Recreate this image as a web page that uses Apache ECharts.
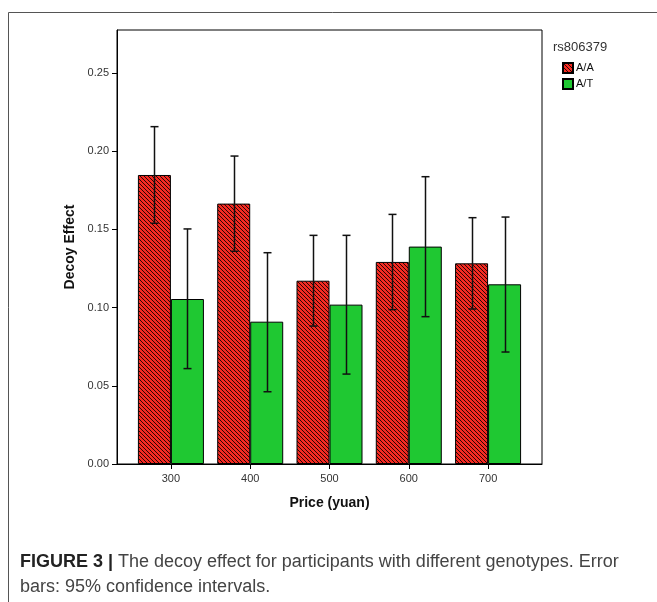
<!DOCTYPE html>
<html>
<head>
<meta charset="utf-8">
<script src="https://cdn.jsdelivr.net/npm/echarts@6/dist/echarts.min.js"></script>
<style>html,body{margin:0;padding:0;background:#fff;}#c{width:657px;height:602px;}</style>
</head>
<body>
<div id="c"></div>
<script>
// ---- data ----
const prices = [300, 400, 500, 600, 700];
const yTicks = [0, 0.05, 0.10, 0.15, 0.20, 0.25];
const aaMean = [0.1848, 0.1665, 0.1172, 0.1292, 0.1283];
const aaLow  = [0.1539, 0.1360, 0.0882, 0.0987, 0.0991];
const aaHigh = [0.2157, 0.1969, 0.1462, 0.1596, 0.1575];
const atMean = [0.1055, 0.0910, 0.1019, 0.1390, 0.1149];
const atLow  = [0.0610, 0.0462, 0.0575, 0.0942, 0.0716];
const atHigh = [0.1503, 0.1351, 0.1462, 0.1837, 0.1579];

// hatch pattern
const pc = document.createElement('canvas');
pc.width = 4; pc.height = 4;
const g = pc.getContext('2d');
g.fillStyle = '#f52a22'; g.fillRect(0, 0, 4, 4);
for (let i = 0; i < 4; i++) {
  g.fillStyle = '#2a0604'; g.fillRect(i, i, 1, 1);
}
const hatch = { image: pc, repeat: 'repeat' };

const BW = 33;
const errData = [];
prices.forEach((p, i) => {
  errData.push([p, aaLow[i], aaHigh[i], -BW / 2]);
  errData.push([p, atLow[i], atHigh[i], BW / 2]);
});

const chart = echarts.init(document.getElementById('c'));
const font = 'Liberation Sans, Arial, sans-serif';
chart.setOption({
  animation: false,
  backgroundColor: '#fff',
  title: { text: 'rs806379', left: 548, top: 36, textStyle: { fontSize: 13, fontWeight: 'normal', color: '#333', fontFamily: font } },
  legend: {
    orient: 'vertical', left: 557, top: 57, itemWidth: 10, itemHeight: 10, itemGap: 4,
    icon: 'rect', data: ['A/A', 'A/T'],
    textStyle: { fontSize: 11, color: '#111', fontFamily: font, padding: [0, 0, 0, -2] }
  },
  grid: { left: 117, top: 30, width: 425, height: 434, show: true, borderColor: '#000', borderWidth: 1, containLabel: false },
  xAxis: {
    type: 'value', min: 232, max: 768,
    name: 'Price (yuan)', nameLocation: 'middle', nameGap: 32,
    nameTextStyle: { fontSize: 14, fontWeight: 'bold', color: '#111', fontFamily: font },
    axisLine: { show: true, lineStyle: { color: '#000', width: 1 } },
    axisTick: { show: true, length: 5, lineStyle: { color: '#000' }, customValues: prices },
    axisLabel: { fontSize: 11, color: '#333', margin: 9, fontFamily: font, customValues: prices },
    splitLine: { show: false }
  },
  yAxis: {
    type: 'value', min: 0, max: 0.2775,
    name: 'Decoy Effect', nameLocation: 'middle', nameGap: 36,
    nameTextStyle: { fontSize: 14, fontWeight: 'bold', color: '#111', fontFamily: font },
    axisLine: { show: true, lineStyle: { color: '#000', width: 1 } },
    axisTick: { show: true, length: 5, lineStyle: { color: '#000' }, customValues: yTicks },
    axisLabel: { fontSize: 11, color: '#333', margin: 8, fontFamily: font, customValues: yTicks, formatter: v => v.toFixed(2) },
    splitLine: { show: false }
  },
  series: [
    { name: 'A/A', type: 'bar', barWidth: BW, barGap: '0%', data: prices.map((p, i) => [p, aaMean[i]]),
      itemStyle: { color: hatch, borderColor: '#000', borderWidth: 1 } },
    { name: 'A/T', type: 'bar', barWidth: BW, barGap: '0%', data: prices.map((p, i) => [p, atMean[i]]),
      itemStyle: { color: '#1fc832', borderColor: '#000', borderWidth: 1 } },
    { type: 'custom', z: 10, data: errData, encode: { x: 0, y: [1, 2] },
      renderItem: function (params, api) {
        const lo = api.coord([api.value(0), api.value(1)]);
        const hi = api.coord([api.value(0), api.value(2)]);
        const x = Math.round(lo[0] + api.value(3)) + 0.5;
        const cap = 4;
        const st = { stroke: '#111', lineWidth: 1.5, fill: null };
        return { type: 'group', children: [
          { type: 'line', shape: { x1: x, y1: hi[1], x2: x, y2: lo[1] }, style: st },
          { type: 'line', shape: { x1: x - cap, y1: hi[1], x2: x + cap, y2: hi[1] }, style: st },
          { type: 'line', shape: { x1: x - cap, y1: lo[1], x2: x + cap, y2: lo[1] }, style: st }
        ] };
      }
    }
  ],
  graphic: [
    { type: 'line', shape: { x1: 8.5, y1: 12.5, x2: 657, y2: 12.5 }, style: { stroke: '#555', lineWidth: 1 } },
    { type: 'line', shape: { x1: 8.5, y1: 12.5, x2: 8.5, y2: 602 }, style: { stroke: '#555', lineWidth: 1 } },
    { type: 'text', left: 20, top: 553, style: {
      text: '{b|FIGURE 3 |} The decoy effect for participants with different genotypes. Error',
      rich: { b: { fontWeight: 'bold', fontSize: 18, fill: '#222', fontFamily: font } },
      fontSize: 18, fill: '#444', fontFamily: font } },
    { type: 'text', left: 20, top: 578, style: { text: 'bars: 95% confidence intervals.', fontSize: 18, fill: '#444', fontFamily: font } }
  ]
});
</script>
</body>
</html>
